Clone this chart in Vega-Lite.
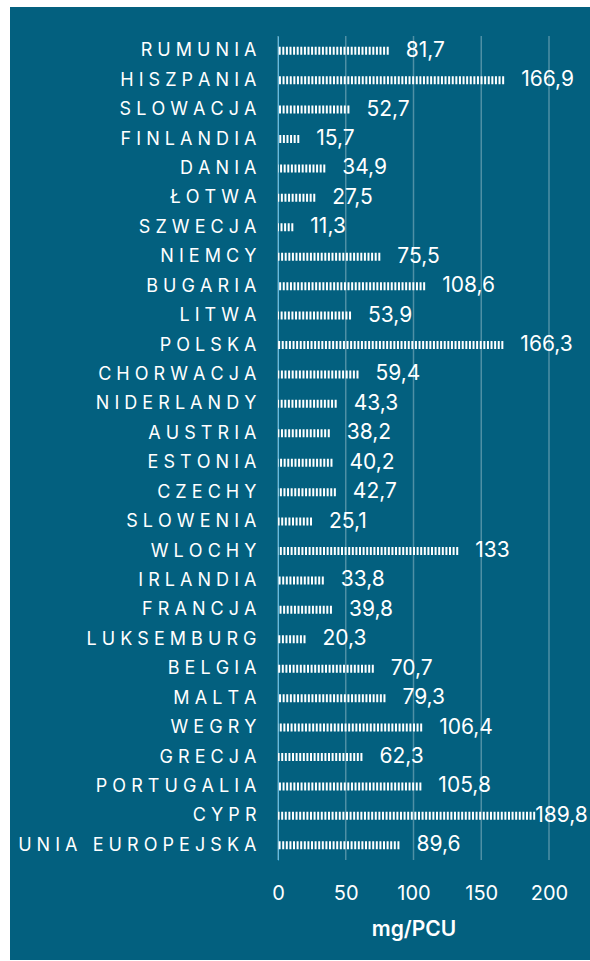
{
  "$schema": "https://vega.github.io/schema/vega-lite/v6.json",
  "width": 580,
  "height": 953,
  "autosize": {"type": "none"},
  "padding": {"left": 10, "top": 7, "right": 0, "bottom": 1},
  "background": "white",
  "config": {
    "view": {"fill": "#03607f", "stroke": null},
    "locale": {"number": {"decimal": ",", "thousands": " ", "grouping": [3], "currency": ["", ""]}},
    "font": "Inter"
  },
  "datasets": {
    "grid": [{"tick": 0}, {"tick": 50}, {"tick": 100}, {"tick": 150}, {"tick": 200}],
    "main": [
      {"country": "RUMUNIA", "value": 81.7},
      {"country": "HISZPANIA", "value": 166.9},
      {"country": "SLOWACJA", "value": 52.7},
      {"country": "FINLANDIA", "value": 15.7},
      {"country": "DANIA", "value": 34.9},
      {"country": "ŁOTWA", "value": 27.5},
      {"country": "SZWECJA", "value": 11.3},
      {"country": "NIEMCY", "value": 75.5},
      {"country": "BUGARIA", "value": 108.6},
      {"country": "LITWA", "value": 53.9},
      {"country": "POLSKA", "value": 166.3},
      {"country": "CHORWACJA", "value": 59.4},
      {"country": "NIDERLANDY", "value": 43.3},
      {"country": "AUSTRIA", "value": 38.2},
      {"country": "ESTONIA", "value": 40.2},
      {"country": "CZECHY", "value": 42.7},
      {"country": "SLOWENIA", "value": 25.1},
      {"country": "WLOCHY", "value": 133},
      {"country": "IRLANDIA", "value": 33.8},
      {"country": "FRANCJA", "value": 39.8},
      {"country": "LUKSEMBURG", "value": 20.3},
      {"country": "BELGIA", "value": 70.7},
      {"country": "MALTA", "value": 79.3},
      {"country": "WEGRY", "value": 106.4},
      {"country": "GRECJA", "value": 62.3},
      {"country": "PORTUGALIA", "value": 105.8},
      {"country": "CYPR", "value": 189.8},
      {"country": "UNIA EUROPEJSKA", "value": 89.6}
    ]
  },
  "resolve": {"scale": {"y": "independent"}, "axis": {"y": "independent"}},
  "layer": [
    {
      "data": {"name": "grid"},
      "mark": {"type": "rule", "color": "white", "opacity": 0.3, "strokeWidth": 1.5},
      "encoding": {
        "x": {
          "field": "tick",
          "type": "quantitative",
          "scale": {"domain": [0, 200], "range": [268, 539], "nice": false, "zero": true},
          "axis": {
            "title": "mg/PCU",
            "values": [0, 50, 100, 150, 200],
            "offset": -98,
            "domain": false,
            "ticks": false,
            "grid": false,
            "labelFlush": false,
            "labelPadding": 21,
            "labelColor": "white",
            "labelFont": "Inter",
            "labelFontSize": 20,
            "titleColor": "white",
            "titleFont": "Inter",
            "titleFontSize": 21,
            "titleFontWeight": 600,
            "titlePadding": 15
          }
        },
        "y": {"datum": 0, "type": "quantitative", "scale": {"domain": [0, 1], "range": [29, 853]}, "axis": null},
        "y2": {"datum": 1}
      }
    },
    {
      "data": {"name": "main"},
      "encoding": {
        "y": {
          "field": "country",
          "type": "nominal",
          "sort": null,
          "scale": {"type": "point", "range": [29, 853], "padding": 0.5},
          "axis": {
            "title": null,
            "offset": -268,
            "ticks": false,
            "tickSize": 0,
            "grid": false,
            "domain": true,
            "domainColor": "#35a7d8",
            "domainWidth": 1,
            "labelPadding": 22,
            "labelLimit": 400,
            "labelColor": "white",
            "labelFont": "Inter",
            "labelFontSize": 18,
            "labelExpr": "join(split(datum.label, ''), '\u00a0')"
          }
        }
      },
      "layer": [
        {
          "mark": {"type": "rule", "color": "white", "strokeWidth": 8, "strokeDash": [2, 1.6], "strokeCap": "butt"},
          "encoding": {
            "x": {"field": "value", "type": "quantitative"},
            "x2": {"datum": 0}
          }
        },
        {
          "transform": [{"filter": "datum.value < 180"}],
          "mark": {"type": "text", "color": "white", "align": "left", "baseline": "middle", "dx": 17, "fontSize": 21, "font": "Inter"},
          "encoding": {
            "x": {"field": "value", "type": "quantitative"},
            "text": {"field": "value", "type": "quantitative", "format": "~g"}
          }
        },
        {
          "transform": [{"filter": "datum.value >= 180"}],
          "mark": {"type": "text", "color": "white", "align": "left", "baseline": "middle", "dx": 0, "fontSize": 21, "font": "Inter"},
          "encoding": {
            "x": {"field": "value", "type": "quantitative"},
            "text": {"field": "value", "type": "quantitative", "format": "~g"}
          }
        }
      ]
    }
  ]
}
